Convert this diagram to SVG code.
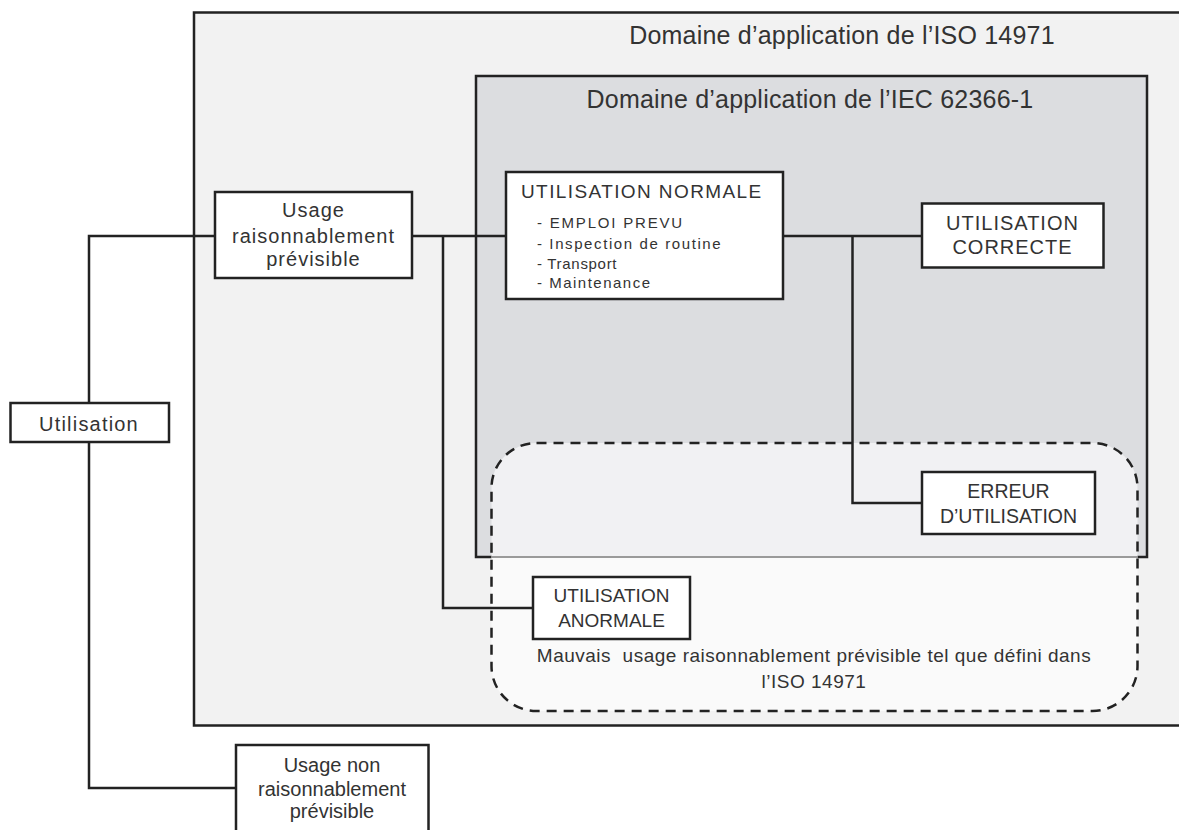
<svg xmlns="http://www.w3.org/2000/svg" width="1179" height="830" viewBox="0 0 1179 830">
<style>
text { font-family: "Liberation Sans", Arial, sans-serif; fill: #333; }
.box { fill: #fff; stroke: #222; stroke-width: 2.5; }
.ln { fill: none; stroke: #222; stroke-width: 2.5; }
.title { font-size: 25px; letter-spacing: 0.2px; }
.mid { text-anchor: middle; }
.item { font-size: 15px; }
</style>
<rect width="1179" height="830" fill="#fff"/>
<g id="iso-domain">
<rect x="194" y="12.5" width="1000" height="713" fill="#f2f2f2" stroke="#222" stroke-width="2.5"/>
<text class="title mid" x="842" y="44">Domaine d’application de l’ISO 14971</text>
</g>
<g id="iec-domain">
<rect x="476" y="76" width="671" height="481" fill="#dcdde0"/>
<rect x="491.5" y="443" width="646" height="268" rx="45" fill="#fff" fill-opacity="0.6"/>
<path class="ln" d="M491.5,557 H476 V76 H1147 V557 H1137.5"/>
<line x1="491.5" y1="557" x2="1137.5" y2="557" stroke="#9a9a9a" stroke-width="2"/>
<text class="title mid" x="810" y="108">Domaine d’application de l’IEC 62366-1</text>
</g>
<g id="misuse-region">
<rect x="491.5" y="443" width="646" height="268" rx="45" fill="none" stroke="#222" stroke-width="2.5" stroke-dasharray="10 7"/>
<text class="mid" x="814" y="662" font-size="19" letter-spacing="0.5" xml:space="preserve" style="white-space:pre">Mauvais  usage raisonnablement prévisible tel que défini dans</text>
<text class="mid" x="814" y="688" font-size="19" letter-spacing="0.5">l’ISO 14971</text>
</g>
<g id="connectors">
<path class="ln" d="M89,403 V236 H215"/>
<path class="ln" d="M89,442 V788 H236"/>
<path class="ln" d="M412,236 H506"/>
<path class="ln" d="M443,236 V608 H533"/>
<path class="ln" d="M783,236 H922"/>
<path class="ln" d="M852.5,236 V503 H922"/>
</g>
<g id="utilisation">
<rect class="box" x="10.5" y="403" width="158.5" height="39"/>
<text class="mid" x="89" y="431" font-size="20" letter-spacing="1.2">Utilisation</text>
</g>
<g id="usage-raisonnable">
<rect class="box" x="215" y="192" width="197" height="86"/>
<text class="mid" x="313.5" y="217" font-size="20" letter-spacing="1">Usage</text>
<text class="mid" x="313.5" y="243" font-size="20" letter-spacing="1">raisonnablement</text>
<text class="mid" x="313.5" y="266" font-size="20" letter-spacing="1">prévisible</text>
</g>
<g id="usage-non-raisonnable">
<rect class="box" x="236" y="745" width="192.5" height="100"/>
<text class="mid" x="332" y="772" font-size="20">Usage non</text>
<text class="mid" x="332" y="796" font-size="20">raisonnablement</text>
<text class="mid" x="332" y="818" font-size="20">prévisible</text>
</g>
<g id="utilisation-normale">
<rect class="box" x="506" y="172" width="277" height="127"/>
<text x="521" y="198" font-size="19" letter-spacing="1.4">UTILISATION NORMALE</text>
<text class="item" x="537" y="228" letter-spacing="1.8">- EMPLOI PREVU</text>
<text class="item" x="537" y="249" letter-spacing="1.6">- Inspection de routine</text>
<text class="item" x="537" y="269" letter-spacing="0.7">- Transport</text>
<text class="item" x="537" y="288" letter-spacing="1.5">- Maintenance</text>
</g>
<g id="utilisation-correcte">
<rect class="box" x="922" y="203.5" width="181.5" height="64"/>
<text class="mid" x="1012.5" y="230" font-size="20" letter-spacing="1">UTILISATION</text>
<text class="mid" x="1012.5" y="254" font-size="20" letter-spacing="1">CORRECTE</text>
</g>
<g id="erreur-utilisation">
<rect class="box" x="922" y="472" width="173" height="62"/>
<text class="mid" x="1008.5" y="498" font-size="19.5">ERREUR</text>
<text class="mid" x="1008.5" y="523" font-size="19.5">D’UTILISATION</text>
</g>
<g id="utilisation-anormale">
<rect class="box" x="533" y="577" width="157" height="62"/>
<text class="mid" x="611.5" y="602" font-size="19">UTILISATION</text>
<text class="mid" x="611.5" y="627" font-size="19">ANORMALE</text>
</g>
</svg>
